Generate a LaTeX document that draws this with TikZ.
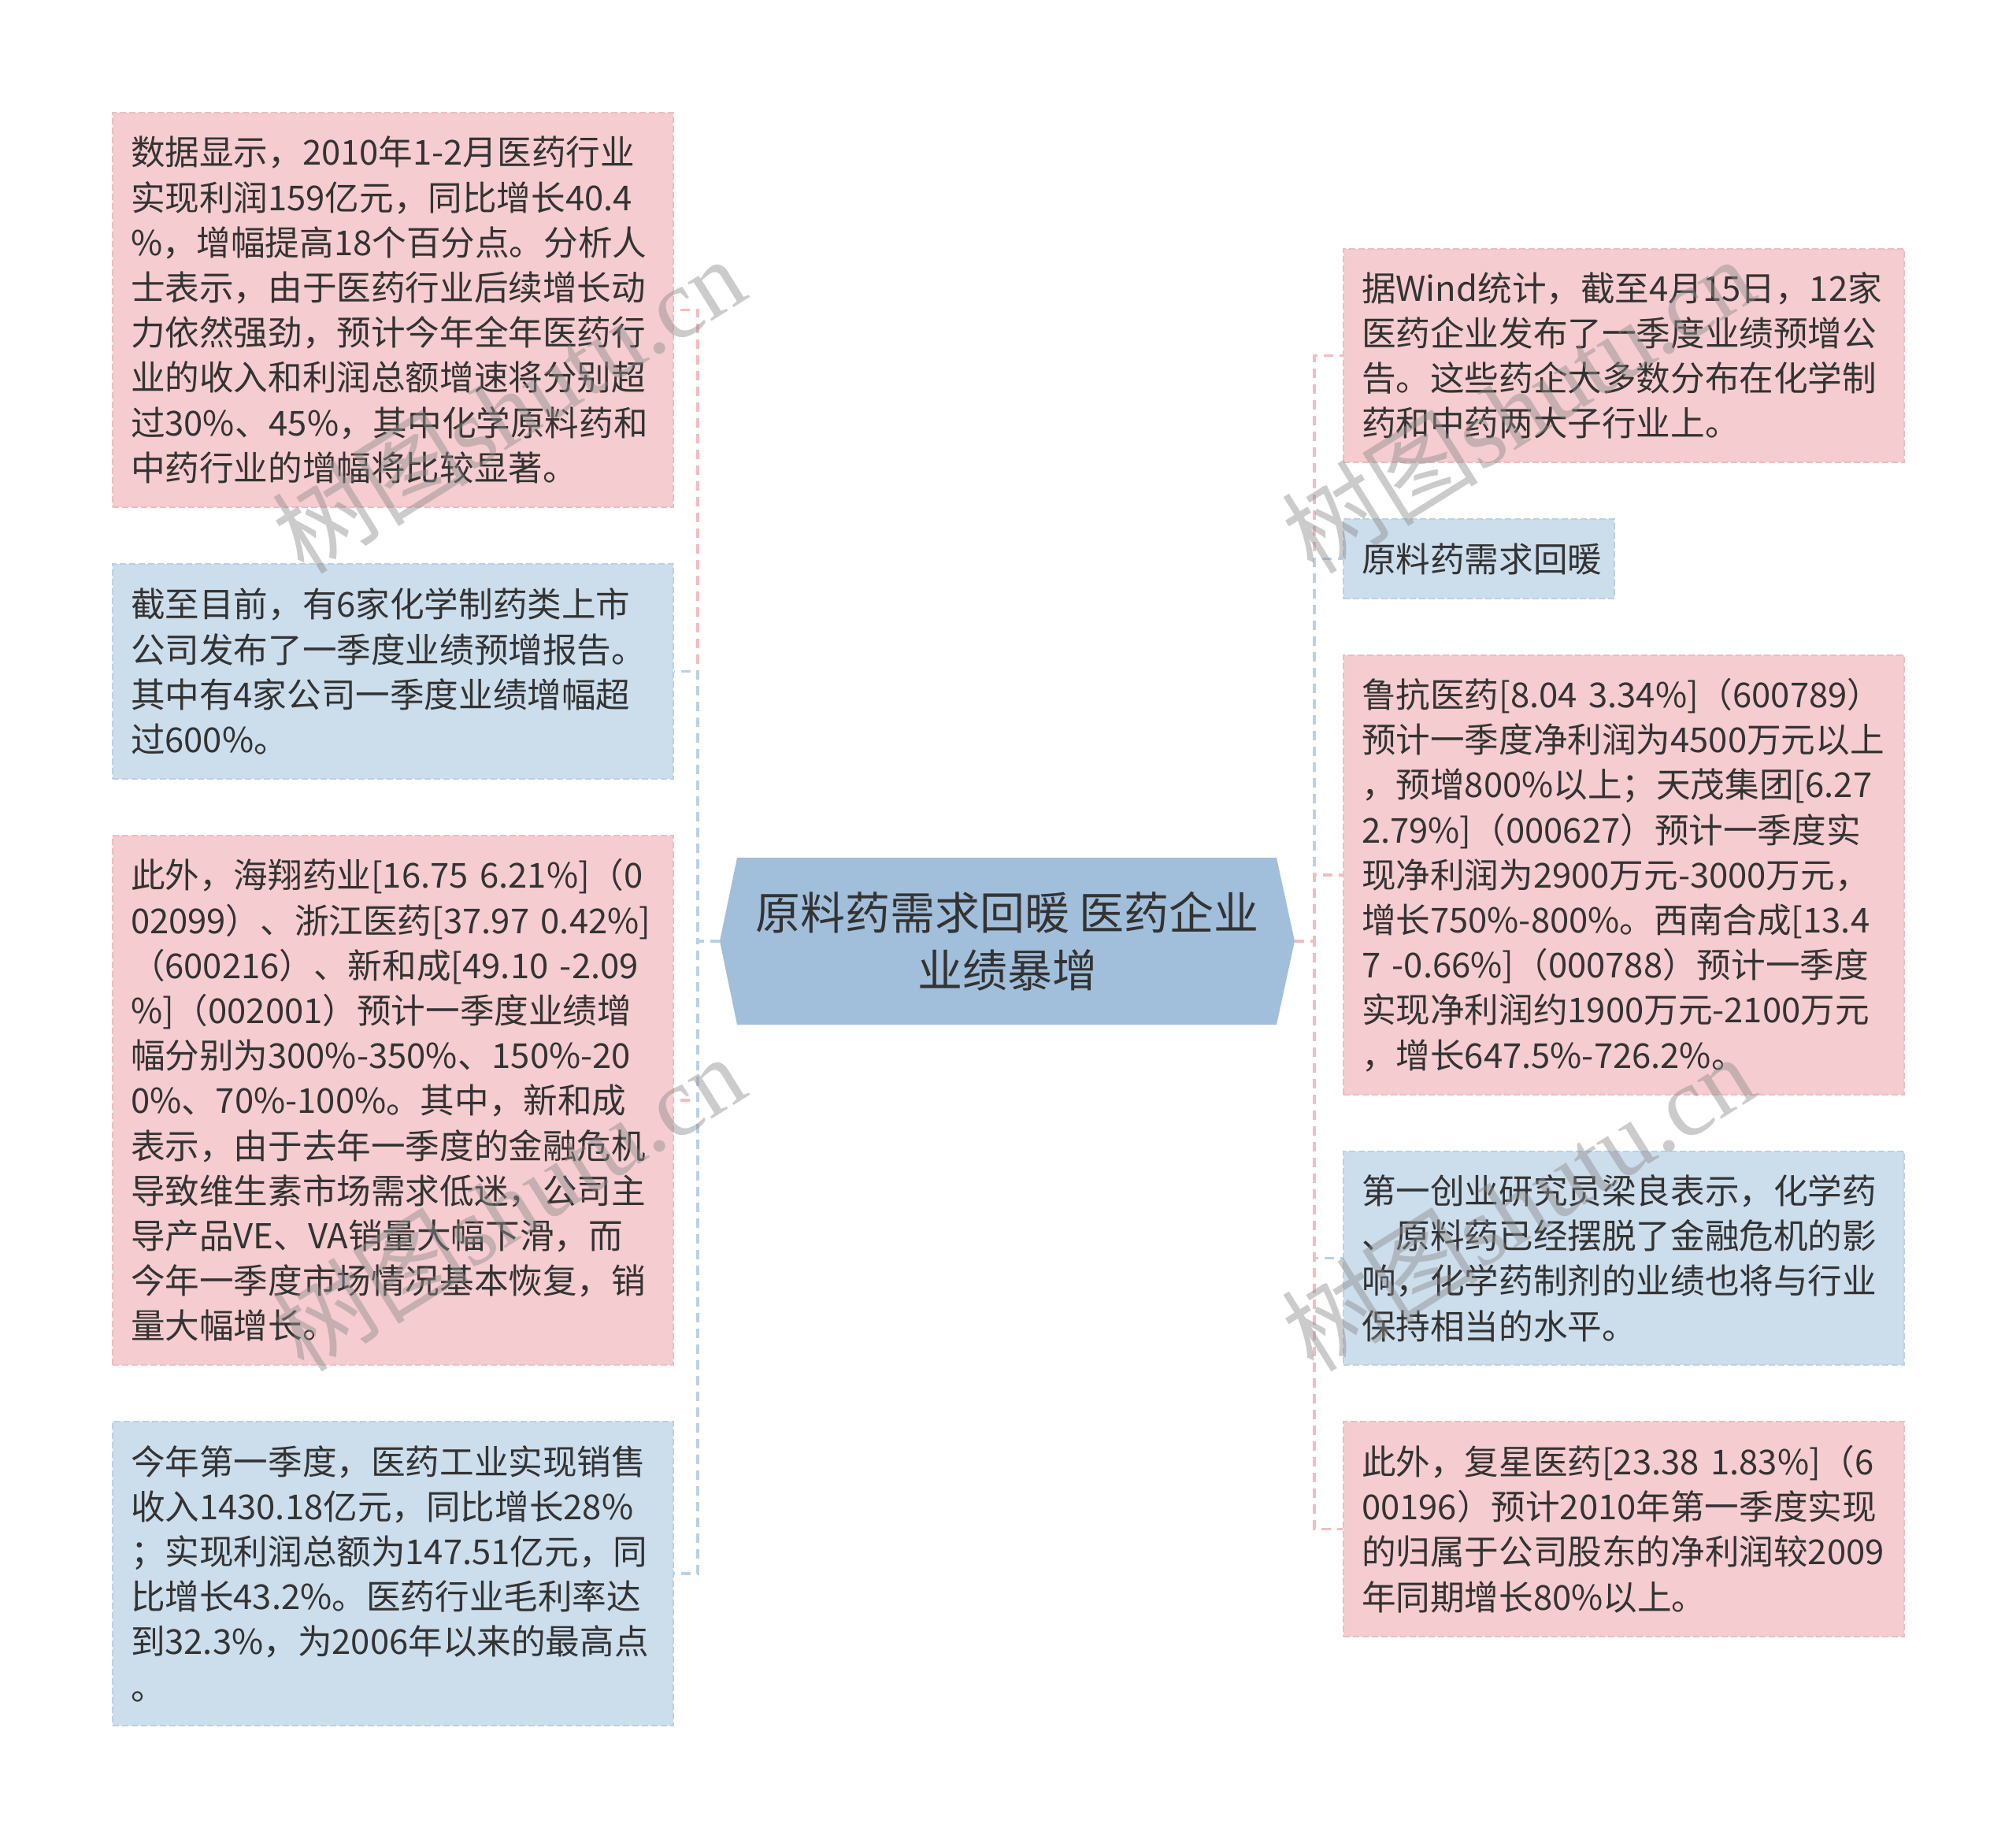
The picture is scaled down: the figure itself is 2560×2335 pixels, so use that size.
\documentclass[tikz,border=0pt]{standalone}
\usepackage{fontspec}
\setmainfont{Noto Sans CJK SC}
\newfontfamily\wmserif{Liberation Serif}
\definecolor{pinkfill}{HTML}{F5CCCF}
\definecolor{bluefill}{HTML}{CCDDEC}
\definecolor{pinkborder}{HTML}{EDBDC1}
\definecolor{blueborder}{HTML}{BDD0E4}
\definecolor{pinkline}{HTML}{F2BCC1}
\definecolor{blueline}{HTML}{BCD0E5}
\definecolor{centerfill}{HTML}{A1BFDB}
\definecolor{txt}{HTML}{333333}
\tikzset{
  box/.style={anchor=north west, inner xsep=23pt, inner ysep=0pt, text width=666pt,
    minimum width=712pt, align=left, font=\fontsize{43.6pt}{57.2pt}\selectfont,
    text=txt, dash pattern=on 8pt off 4pt, line width=2pt},
  pbox/.style={box, fill=pinkfill, draw=pinkborder},
  bbox/.style={box, fill=bluefill, draw=blueborder},
  link/.style={line width=3.5pt, dash pattern=on 12pt off 8pt},
  plink/.style={link, draw=pinkline},
  blink/.style={link, draw=blueline},
  wm/.style={rotate=32, text=black!45, opacity=0.45, font=\fontsize{125pt}{125pt}\selectfont}
}
\begin{document}
\begin{tikzpicture}[x=1pt,y=-1pt]
\useasboundingbox (0,0) rectangle (2560,2335);
\fill[white] (0,0) rectangle (2560,2335);

% left boxes
\node[pbox, minimum height=501pt] (L1) at (142,142) {数据显示，2010年1-2月医药行业\\实现利润159亿元，同比增长40.4\\\%，增幅提高18个百分点。分析人\\士表示，由于医药行业后续增长动\\力依然强劲，预计今年全年医药行\\业的收入和利润总额增速将分别超\\过30\%、45\%，其中化学原料药和\\中药行业的增幅将比较显著。};
\node[bbox, minimum height=273pt] (L2) at (142,715) {截至目前，有6家化学制药类上市\\公司发布了一季度业绩预增报告。\\其中有4家公司一季度业绩增幅超\\过600\%。};
\node[pbox, minimum height=672pt] (L3) at (142,1060) {此外，海翔药业[16.75 6.21\%]（0\\02099）、浙江医药[37.97 0.42\%]\\（600216）、新和成[49.10 -2.09\\\%]（002001）预计一季度业绩增\\幅分别为300\%-350\%、150\%-20\\0\%、70\%-100\%。其中，新和成\\表示，由于去年一季度的金融危机\\导致维生素市场需求低迷，公司主\\导产品VE、VA销量大幅下滑，而\\今年一季度市场情况基本恢复，销\\量大幅增长。};
\node[bbox, minimum height=386pt] (L4) at (142,1804) {今年第一季度，医药工业实现销售\\收入1430.18亿元，同比增长28\%\\；实现利润总额为147.51亿元，同\\比增长43.2\%。医药行业毛利率达\\到32.3\%，为2006年以来的最高点\\。};

% right boxes
\node[pbox, minimum height=271pt] (R1) at (1705,315) {据Wind统计，截至4月15日，12家\\医药企业发布了一季度业绩预增公\\告。这些药企大多数分布在化学制\\药和中药两大子行业上。};
\node[bbox, minimum height=101pt, text width=298pt, minimum width=344pt] (R2) at (1705,658) {原料药需求回暖};
\node[pbox, minimum height=558pt] (R3) at (1705,831) {鲁抗医药[8.04 3.34\%]（600789）\\预计一季度净利润为4500万元以上\\，预增800\%以上；天茂集团[6.27\\2.79\%]（000627）预计一季度实\\现净利润为2900万元-3000万元，\\增长750\%-800\%。西南合成[13.4\\7 -0.66\%]（000788）预计一季度\\实现净利润约1900万元-2100万元\\，增长647.5\%-726.2\%。};
\node[bbox, minimum height=271pt] (R4) at (1705,1461) {第一创业研究员梁良表示，化学药\\、原料药已经摆脱了金融危机的影\\响，化学药制剂的业绩也将与行业\\保持相当的水平。};
\node[pbox, minimum height=273pt] (R5) at (1705,1804) {此外，复星医药[23.38 1.83\%]（6\\00196）预计2010年第一季度实现\\的归属于公司股东的净利润较2009\\年同期增长80\%以上。};

% center
\coordinate (cL) at (914,1195);
\coordinate (cR) at (1644,1195);
\fill[centerfill] (cL) -- (936,1089) -- (1621,1089) -- (cR) -- (1621,1301) -- (936,1301) -- cycle;
\node[align=center, text=txt, font=\fontsize{57pt}{73.5pt}\selectfont] (C) at (1279,1195) {原料药需求回暖 医药企业\\业绩暴增};

% connectors
\draw[plink] (cL) -- ++(-28,0) |- (L1.east);
\draw[blink] (cL) -- ++(-28,0) |- (L2.east);
\draw[plink] (cL) -- ++(-28,0) |- (L3.east);
\draw[blink] (cL) -- ++(-28,0) |- (L4.east);
\draw[plink] (cR) -- ++(25,0) |- (R1.west);
\draw[blink] (cR) -- ++(25,0) |- (R2.west);
\draw[plink] (cR) -- ++(25,0) |- (R3.west);
\draw[blink] (cR) -- ++(25,0) |- (R4.west);
\draw[plink] (cR) -- ++(25,0) |- (R5.west);

% watermarks
\node[wm] (W1) at (645,514) {树图{\wmserif shutu.cn}};
\node[wm] (W2) at (645,1527) {树图{\wmserif shutu.cn}};
\node[wm] (W3) at (1927,514) {树图{\wmserif shutu.cn}};
\node[wm] (W4) at (1927,1527) {树图{\wmserif shutu.cn}};
\end{tikzpicture}
\end{document}
